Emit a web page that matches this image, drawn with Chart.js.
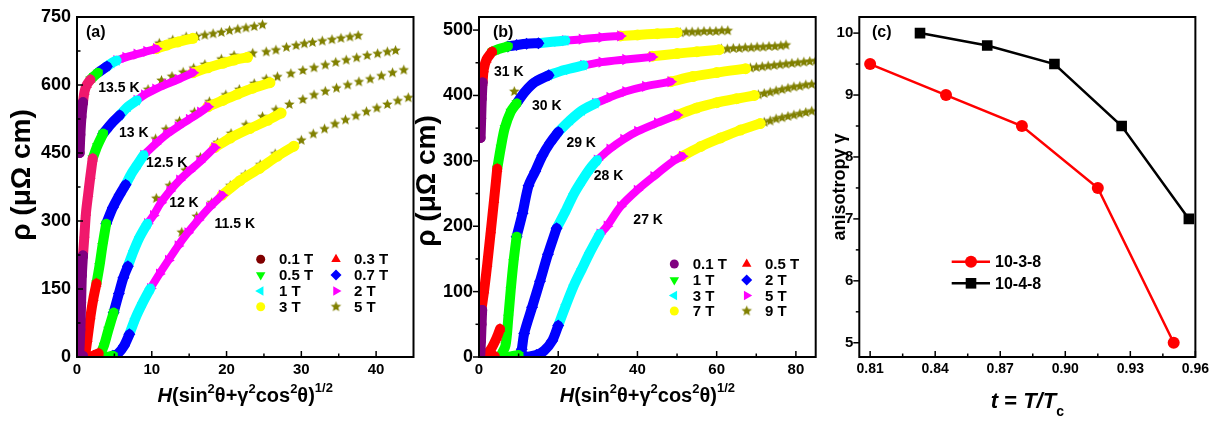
<!DOCTYPE html>
<html>
<head>
<meta charset="utf-8">
<script src="https://cdn.jsdelivr.net/npm/chart.js@4"></script>
<style>
body { margin: 0; background: #fff; width: 1213px; height: 421px; position: relative; overflow: hidden; }
canvas { position: absolute; top: 0; }
</style>
</head>
<body>
<canvas id="pa" width="420" height="421" style="left:0px"></canvas>
<canvas id="pb" width="425" height="421" style="left:405px"></canvas>
<canvas id="pc" width="383" height="421" style="left:830px"></canvas>
<script>
// ---------- panel (a): rho vs scaled field, fields 0.1 .. 5 T ----------
const a_fields = ['0.1 T', '0.3 T', '0.5 T', '0.7 T', '1 T', '2 T', '3 T', '5 T'];
const a_temps = ['13.5 K', '13 K', '12.5 K', '12 K', '11.5 K'];
const a_tempAt = [[5.6, 593], [7.6, 493], [12.0, 427], [14.3, 339], [21.1, 292]];
const a_xTicks = [0, 10, 20, 30, 40];
const a_xMinor = [5, 15, 25, 35];
const a_yTicks = [0, 150, 300, 450, 600, 750];
const a_yMinor = [75, 225, 375, 525, 675];

// each field: one segment per temperature (13.5 K first)
const a_0_1T = [
  [[0.35, 450], [0.45, 490], [0.6, 530], [0.8, 562]],
  [[0.3, 4], [0.45, 60], [0.55, 120], [0.65, 180], [0.8, 224]],
  [[0.3, 0], [0.8, 2]]
];
const a_0_3T = [
  [[0.8, 562], [1.0, 585], [1.3, 600], [1.8, 612]],
  [[0.8, 224], [1.0, 270], [1.2, 318], [1.5, 360], [1.8, 400], [2.1, 438]],
  [[1.1, 5], [1.4, 40], [1.8, 90], [2.2, 130], [2.6, 162]],
  [[1.5, 0], [2.2, 3], [2.9, 8]]
];
const a_0_5T = [
  [[1.8, 612], [2.3, 620], [2.8, 627]],
  [[2.1, 438], [2.7, 465], [3.5, 493]],
  [[2.6, 162], [3.0, 200], [3.4, 245], [3.9, 294]],
  [[3.0, 2], [3.6, 25], [4.2, 60], [4.9, 98]],
  [[4.0, 0], [4.8, 3]]
];
const a_0_7T = [
  [[2.8, 627], [3.4, 634], [4.0, 641]],
  [[3.5, 493], [4.6, 515], [5.7, 533]],
  [[3.9, 294], [4.8, 330], [5.7, 358], [6.5, 380]],
  [[4.9, 98], [5.6, 140], [6.2, 175], [6.8, 200]],
  [[4.8, 3], [5.5, 8], [6.3, 25], [7.0, 50]]
];
const a_1T = [
  [[4.0, 641], [4.6, 648], [5.3, 654]],
  [[5.7, 533], [6.8, 552], [8.0, 566]],
  [[6.5, 380], [7.3, 405], [8.1, 425], [8.9, 445]],
  [[6.8, 200], [7.6, 235], [8.4, 265], [9.4, 294]],
  [[7.0, 50], [7.8, 85], [8.8, 120], [9.8, 151]]
];
const a_2T = [
  [[5.3, 654], [6.5, 661], [8, 668], [9.3, 674], [10.6, 680]],
  [[8.0, 566], [9, 578], [10.5, 591], [12, 602], [13.5, 612], [15.5, 627]],
  [[8.9, 445], [10.5, 470], [12, 491], [13.5, 508], [15, 524], [16.5, 540], [17.5, 552]],
  [[9.4, 294], [10.2, 312], [11.2, 340], [12.4, 366], [13.7, 390], [15, 410], [16.4, 430], [18.4, 462]],
  [[9.8, 151], [11, 183], [12.2, 213], [13.5, 245], [14.8, 274], [16.2, 302], [17.7, 330], [19.4, 357]]
];
const a_3T = [
  [[10.6, 680], [12, 688], [13.5, 695], [15.5, 703]],
  [[15.5, 627], [17.5, 638], [19.5, 648], [21, 655], [22.8, 661]],
  [[17.5, 552], [19.5, 566], [21.5, 580], [23.5, 593], [25.8, 605]],
  [[18.4, 462], [20.5, 483], [23.1, 504], [25.5, 522], [27.3, 538]],
  [[19.4, 357], [21.8, 389], [24.4, 416], [26.8, 443], [29.0, 465]]
];
const a_5T = [
  [[11, 692], [12.8, 699], [14.6, 706], [16, 707], [17.1, 710], [18.2, 713], [19.3, 716], [20.4, 720],
   [21.5, 723], [22.6, 726], [23.7, 729], [24.8, 733]],
  [[9.5, 590], [11.3, 610], [12.7, 619], [14.2, 628], [15.6, 637], [17.1, 645], [19.3, 657], [21, 665],
   [23.5, 670], [25.3, 673], [26.6, 677], [28, 683], [29.3, 687], [30.4, 691], [31.5, 694], [32.8, 697],
   [34.1, 700], [35.3, 703], [36.5, 706], [37.6, 709]],
  [[10.5, 481], [11.9, 502], [13.7, 520], [15.7, 540], [17.7, 563], [19.9, 578], [21.7, 590], [23.7, 603],
   [25.3, 613], [26.8, 618], [28.6, 625], [30.2, 632], [31.7, 638], [33.2, 644], [34.6, 650], [36, 655],
   [37.4, 660], [38.8, 665], [40.2, 669], [41.5, 673], [42.6, 676]],
  [[10.6, 350], [12.4, 378], [14.5, 412], [16.5, 440], [18.8, 473], [20.6, 493], [22.6, 512], [24.8, 530],
   [26.6, 545], [28.4, 557], [30.2, 568], [31.7, 578], [33.2, 586], [34.7, 593], [36.2, 600], [37.7, 607],
   [39.2, 613], [40.7, 620], [42.2, 627], [43.7, 633]],
  [[14, 275], [16, 310], [18, 340], [20.5, 378], [22.5, 402], [24.5, 424], [26.5, 448], [30, 478],
   [31.6, 492], [33.1, 503], [34.5, 514], [35.9, 523], [37.3, 532], [38.7, 541], [40.1, 549], [41.5, 557],
   [42.9, 565], [44.3, 572]]
];

// ---------- panel (b): fields 0.1 .. 9 T ----------
const b_fields = ['0.1 T', '0.5 T', '1 T', '2 T', '3 T', '5 T', '7 T', '9 T'];
const b_temps = ['31 K', '30 K', '29 K', '28 K', '27 K'];
const b_tempAt = [[7.5, 436], [17.1, 384], [25.8, 327], [32.7, 276], [42.7, 209]];
const b_xTicks = [0, 20, 40, 60, 80];
const b_xMinor = [10, 30, 50, 70];
const b_yTicks = [0, 100, 200, 300, 400, 500];
const b_yMinor = [50, 150, 250, 350, 450];

const b_0_1T = [
  [[0.4, 335], [0.55, 365], [0.7, 395], [0.9, 420]],
  [[0.3, 0], [0.5, 25], [0.65, 50], [0.8, 72]]
];
const b_0_5T = [
  [[0.9, 420], [1.2, 440], [1.9, 455], [3.3, 467]],
  [[0.6, 72], [1.3, 102], [2.1, 143], [3.0, 194], [3.8, 240], [4.6, 288]],
  [[1.5, 2], [3, 12], [4.5, 30], [5.3, 43]],
  [[2, 0], [4, 1]]
];
const b_1T = [
  [[3.3, 467], [5, 471], [7.3, 475]],
  [[4.6, 288], [5.5, 320], [6.5, 350], [8, 375], [9.5, 388]],
  [[5.5, 2], [6.7, 18], [7.4, 60], [8.0, 102], [8.7, 145], [9.5, 184]],
  [[6.5, 0], [8, 1], [10, 3]]
];
const b_2T = [
  [[7.3, 475], [9.5, 477], [12, 479], [15, 480]],
  [[9.5, 388], [11.5, 405], [14, 420], [17.6, 431]],
  [[9.5, 184], [11, 220], [12.5, 262], [14.2, 284], [16, 308], [18, 328], [20, 344]],
  [[10.2, 0], [10.8, 12], [11.4, 36], [13.4, 76], [15.4, 116], [17.4, 157], [19.6, 197]],
  [[12, 0], [14.5, 3], [16.5, 10], [18.5, 25], [20, 48]]
];
const b_3T = [
  [[15, 480], [18.5, 482], [21.8, 484]],
  [[17.6, 431], [21.5, 439], [26.4, 446]],
  [[20, 344], [23, 362], [26, 377], [29.4, 388]],
  [[19.6, 197], [22, 225], [24, 250], [26, 270], [28, 288], [29.8, 301]],
  [[20, 48], [22, 80], [24, 110], [26, 135], [28, 160], [30.5, 188]]
];
const b_5T = [
  [[21.8, 484], [26, 486], [31, 489], [35.7, 491]],
  [[26.4, 446], [31, 451], [37, 455], [43.7, 459]],
  [[29.4, 388], [33, 397], [37, 406], [42, 414], [48.4, 421]],
  [[29.8, 301], [33, 318], [36.5, 333], [40, 345], [45, 358], [50, 370]],
  [[30.5, 188], [32.3, 200], [35.7, 230], [39.9, 255], [44.1, 276], [49.2, 300], [51.3, 307]]
];
const b_7T = [
  [[35.7, 491], [40, 492.5], [45, 494.5], [50, 496]],
  [[43.7, 460], [50, 464], [55, 467], [60.6, 470]],
  [[48.4, 421], [54, 429], [60, 435], [67.3, 441]],
  [[50, 370], [55, 381], [60, 389], [65, 395], [69.5, 400]],
  [[51.3, 307], [56, 322], [61, 335], [66, 347], [71, 357]]
];
const b_9T = [
  [[50.8, 496], [52.3, 497], [53.8, 497], [55.3, 497], [56.8, 498], [58.3, 498], [59.8, 498], [61.3, 499], [62.8, 499]],
  [[8.9, 406], [61.2, 471], [62.7, 471], [64.2, 472], [65.7, 472], [67.2, 473], [68.7, 473], [70.2, 474],
   [71.7, 474], [73.2, 475], [74.7, 475], [76.2, 476], [77.5, 477]],
  [[68.5, 442], [70, 443], [71.5, 444], [73, 445], [74.5, 446], [76, 447], [77.5, 448], [79, 449], [80.5, 450],
   [82, 451], [83.5, 452], [85, 453]],
  [[70.5, 401], [72, 403], [73.5, 405], [75, 407], [76.5, 409], [78, 411], [79.5, 413], [81, 414], [82.5, 416], [84, 417]],
  [[72, 359], [73.5, 361], [75, 364], [76.5, 366], [78, 368], [79.5, 370], [81, 372], [82.5, 374], [84, 376]]
];

// ---------- panel (c): anisotropy vs reduced temperature ----------
const c_series = ['10-3-8', '10-4-8'];
const c_t_1038 = [0.81, 0.845, 0.88, 0.915, 0.95];
const c_g_1038 = [9.5, 9.0, 8.5, 7.5, 5.0];
const c_t_1048 = [0.833, 0.864, 0.895, 0.926, 0.957];
const c_g_1048 = [10.0, 9.8, 9.5, 8.5, 7.0];
const c_xTicks = [0.81, 0.84, 0.87, 0.90, 0.93, 0.96];
const c_xMinor = [0.825, 0.855, 0.885, 0.915, 0.945];
const c_yTicks = [5, 6, 7, 8, 9, 10];
const c_yMinor = [5.5, 6.5, 7.5, 8.5, 9.5];

// ---------- styles ----------
Chart.defaults.font.family = "'Liberation Sans', Arial, sans-serif";
Chart.defaults.font.weight = 'bold';
Chart.defaults.color = '#000';

function makeStar(r, color) {
  const c = document.createElement('canvas');
  const s = Math.ceil(r * 2) + 2;
  c.width = s; c.height = s;
  const g = c.getContext('2d');
  g.fillStyle = color;
  g.beginPath();
  for (let i = 0; i < 10; i++) {
    const rr = i % 2 ? r * 0.45 : r;
    const ang = -Math.PI / 2 + i * Math.PI / 5;
    g.lineTo(s / 2 + rr * Math.cos(ang), s / 2 + rr * Math.sin(ang));
  }
  g.closePath();
  g.fill();
  return c;
}
const STAR = makeStar(5.5, '#808000');

const looks = [
  { c: '#800080', ps: 'circle', rot: 0, r: 5, w: 10 },
  { c: '#ff0000', ps: 'triangle', rot: 0, r: 6, w: 10 },
  { c: '#00ff00', ps: 'triangle', rot: 180, r: 6, w: 10 },
  { c: '#0000ff', ps: 'rectRot', rot: 0, r: 6, w: 10 },
  { c: '#00ffff', ps: 'triangle', rot: 270, r: 6, w: 10 },
  { c: '#ff00ff', ps: 'triangle', rot: 90, r: 6.5, w: 8 },
  { c: '#ffff00', ps: 'circle', rot: 0, r: 5.5, w: 10 },
  { c: '#808000', ps: STAR, rot: 0, r: 5, w: 0 }
];
// in (a) the 0.3 T bands of the two warmest curves print in a crimson tint
const a_tint = { 1: ['#f0186c', '#f0186c'] };

function bandSets(fieldData, tint) {
  const sets = [];
  fieldData.forEach((segs, k) => {
    const L = looks[k];
    segs.forEach((seg, j) => {
      const col = (tint && tint[k] && tint[k][j]) || L.c;
      sets.push({
        data: seg.map(p => ({ x: p[0], y: p[1] })),
        showLine: L.w > 0,
        borderColor: col, backgroundColor: col,
        borderWidth: L.w, borderCapStyle: 'round', borderJoinStyle: 'round',
        tension: 0.3,
        pointStyle: L.ps, pointRotation: L.rot, pointRadius: L.r, pointBorderWidth: 0
      });
    });
  });
  return sets;
}

function axis(pos, min, max, ticks, size, pad, fmt, fit) {
  return {
    type: 'linear', position: pos, min: min, max: max,
    grid: { display: false, drawTicks: false },
    border: { display: false },
    afterBuildTicks: s => { s.ticks = ticks.map(v => ({ value: v })); },
    afterFit: s => { if (pos === 'left') s.width = fit; else s.height = fit; },
    ticks: { font: { size: size, weight: 'bold' }, color: '#000', padding: pad,
             autoSkip: false, maxRotation: 0, callback: fmt }
  };
}

// draws a run of text pieces with different fonts / offsets, centred on cx
function richText(ctx, parts, cx, y) {
  let total = 0;
  parts.forEach(p => { ctx.font = p.f; p.w = ctx.measureText(p.t).width; total += p.w; });
  let x = cx - total / 2;
  ctx.textAlign = 'left';
  ctx.textBaseline = 'alphabetic';
  parts.forEach(p => { ctx.font = p.f; ctx.fillText(p.t, x, y + (p.dy || 0)); x += p.w; });
}

const FF = "'Liberation Sans', Arial, sans-serif";

function deco(o) {
  return {
    id: 'deco',
    afterDraw(chart) {
      const ctx = chart.ctx, a = chart.chartArea, xs = chart.scales.x, ys = chart.scales.y;
      ctx.save();
      ctx.strokeStyle = '#000';
      ctx.fillStyle = '#000';
      ctx.lineWidth = 1.5;
      // x ticks point inward
      const xt = (list, len) => list.forEach(v => {
        const px = xs.getPixelForValue(v);
        ctx.beginPath(); ctx.moveTo(px, a.bottom); ctx.lineTo(px, a.bottom - len); ctx.stroke();
      });
      xt(o.xTicks, 6); xt(o.xMinor, 3.5);
      const yt = (list, len) => list.forEach(v => {
        const py = ys.getPixelForValue(v);
        ctx.beginPath(); ctx.moveTo(a.left, py); ctx.lineTo(a.left + o.yDir * len, py); ctx.stroke();
      });
      yt(o.yTicks, 6); yt(o.yMinor, 3.5);
      ctx.lineWidth = 2;
      ctx.strokeRect(a.left, a.top, a.right - a.left, a.bottom - a.top);

      // y title
      ctx.save();
      ctx.translate(o.yTitleX, o.yTitleY);
      ctx.rotate(-Math.PI / 2);
      ctx.font = o.yTitleFont;
      ctx.textAlign = 'center';
      ctx.textBaseline = 'middle';
      ctx.fillText(o.yTitle, 0, 0);
      ctx.restore();

      // x title
      richText(ctx, o.xTitle, (a.left + a.right) / 2, o.xTitleY);

      // panel letter
      ctx.font = 'bold 16px ' + FF;
      ctx.textAlign = 'left';
      ctx.textBaseline = 'middle';
      ctx.fillText(o.panel, o.panelX, 33);

      // temperature labels
      if (o.temps) {
        ctx.font = 'bold 14px ' + FF;
        ctx.textAlign = 'center';
        o.temps.forEach((t, i) => {
          ctx.fillText(t, xs.getPixelForValue(o.tempAt[i][0]), ys.getPixelForValue(o.tempAt[i][1]));
        });
      }
      if (o.legend) o.legend(ctx);
      ctx.restore();
    }
  };
}

function fieldLegend(names, colors, mx, tx, rows) {
  return ctx => {
    names.forEach((n, i) => {
      const L = looks[i];
      const row = Math.floor(i / 2), col = i % 2;
      ctx.fillStyle = colors[i];
      Chart.helpers.drawPoint(ctx, { pointStyle: L.ps, rotation: L.rot, radius: L.ps === 'circle' ? 4.5 : 5.5, borderWidth: 0 }, mx[col], rows[row]);
      ctx.fillStyle = '#000';
      ctx.font = 'bold 15px ' + FF;
      ctx.textAlign = 'left';
      ctx.textBaseline = 'middle';
      ctx.fillText(n, tx[col], rows[row] + 1);
    });
  };
}

const xTitleAB = [
  { t: 'H', f: 'bold italic 20px ' + FF },
  { t: '(sin', f: 'bold 20px ' + FF },
  { t: '2', f: 'bold 13px ' + FF, dy: -9 },
  { t: '\u03b8+\u03b3', f: 'bold 20px ' + FF },
  { t: '2', f: 'bold 13px ' + FF, dy: -9 },
  { t: 'cos', f: 'bold 20px ' + FF },
  { t: '2', f: 'bold 13px ' + FF, dy: -9 },
  { t: '\u03b8)', f: 'bold 20px ' + FF },
  { t: '1/2', f: 'bold 13px ' + FF, dy: -10 }
];

function panel(id, o) {
  return new Chart(document.getElementById(id), {
    type: 'scatter',
    data: { datasets: o.datasets },
    options: {
      responsive: false, animation: false,
      layout: { padding: { left: 0, top: 17, right: o.padR, bottom: 0 } },
      plugins: { legend: { display: false }, tooltip: { enabled: false } },
      scales: { x: o.x, y: o.y }
    },
    plugins: [deco(o)]
  });
}

const intFmt = v => String(v);

panel('pa', {
  datasets: bandSets([a_0_1T, a_0_3T, a_0_5T, a_0_7T, a_1T, a_2T, a_3T, a_5T], a_tint),
  padR: 5,
  x: axis('bottom', 0, 45, a_xTicks, 15, 4, intFmt, 64),
  y: axis('left', 0, 750, a_yTicks, 18, 6, intFmt, 77),
  xTicks: a_xTicks, xMinor: a_xMinor, yTicks: a_yTicks, yMinor: a_yMinor, yDir: 1,
  yTitle: '\u03c1 (\u03bc\u03a9 cm)', yTitleFont: 'bold 28px ' + FF, yTitleX: 22.5, yTitleY: 175,
  xTitle: xTitleAB, xTitleY: 402,
  panel: '(a)', panelX: 86,
  temps: a_temps, tempAt: a_tempAt,
  legend: fieldLegend(a_fields,
    ['#800000', '#ff0000', '#00ff00', '#0000ff', '#00ffff', '#ff00ff', '#ffff00', '#808000'],
    [260.7, 336], [279, 354], [259.3, 275, 291, 306.7])
});

panel('pb', {
  datasets: bandSets([b_0_1T, b_0_5T, b_1T, b_2T, b_3T, b_5T, b_7T, b_9T]),
  padR: 14.3,
  x: axis('bottom', 0, 85, b_xTicks, 15, 4, intFmt, 64),
  y: axis('left', 0, 520, b_yTicks, 18, 6, intFmt, 74),
  xTicks: b_xTicks, xMinor: b_xMinor, yTicks: b_yTicks, yMinor: b_yMinor, yDir: -1,
  yTitle: '\u03c1 (\u03bc\u03a9 cm)', yTitleFont: 'bold 28px ' + FF, yTitleX: 22.5, yTitleY: 181,
  xTitle: xTitleAB, xTitleY: 402,
  panel: '(b)', panelX: 88,
  temps: b_temps, tempAt: b_tempAt,
  legend: fieldLegend(b_fields,
    ['#800080', '#ff0000', '#00ff00', '#0000ff', '#00ffff', '#ff00ff', '#ffff00', '#808000'],
    [269.3, 341.7], [287.7, 360], [264, 280, 295.5, 311])
});

const cColors = ['#ff0000', '#000000'];
const cStyles = [{ ps: 'circle', r: 6 }, { ps: 'rect', r: 7.5 }];
const cSet = (xsArr, ysArr, k) => ({
  data: xsArr.map((t, i) => ({ x: t, y: ysArr[i] })),
  showLine: true, borderColor: cColors[k], backgroundColor: cColors[k], borderWidth: 2.5,
  pointStyle: cStyles[k].ps, pointRadius: cStyles[k].r, pointBorderWidth: 0
});

panel('pc', {
  datasets: [cSet(c_t_1038, c_g_1038, 0), cSet(c_t_1048, c_g_1048, 1)],
  padR: 16.3,
  x: axis('bottom', 0.805, 0.96, c_xTicks, 14, 4, v => v.toFixed(2), 64),
  y: axis('left', 4.77, 10.26, c_yTicks, 15, 6, intFmt, 29.3),
  xTicks: c_xTicks, xMinor: c_xMinor, yTicks: c_yTicks, yMinor: c_yMinor, yDir: -1,
  yTitle: 'anisotropy \u03b3', yTitleFont: 'bold 18px ' + FF, yTitleX: 10, yTitleY: 187,
  xTitle: [
    { t: 't', f: 'bold italic 22px ' + FF },
    { t: ' = ', f: 'bold 22px ' + FF },
    { t: 'T/T', f: 'bold italic 22px ' + FF },
    { t: 'c', f: 'bold 14px ' + FF, dy: 8 }
  ],
  xTitleY: 408,
  panel: '(c)', panelX: 42,
  legend: ctx => {
    c_series.forEach((n, k) => {
      const yy = k === 0 ? 261.7 : 283.3;
      ctx.strokeStyle = cColors[k];
      ctx.lineWidth = 2.5;
      ctx.beginPath(); ctx.moveTo(121.7, yy); ctx.lineTo(160, yy); ctx.stroke();
      ctx.fillStyle = cColors[k];
      Chart.helpers.drawPoint(ctx, { pointStyle: cStyles[k].ps, rotation: 0, radius: cStyles[k].r, borderWidth: 0 }, 141, yy);
      ctx.fillStyle = '#000';
      ctx.font = 'bold 16px ' + FF;
      ctx.textAlign = 'left';
      ctx.textBaseline = 'middle';
      ctx.fillText(n, 165, yy + 1);
    });
  }
});
</script>
</body>
</html>
